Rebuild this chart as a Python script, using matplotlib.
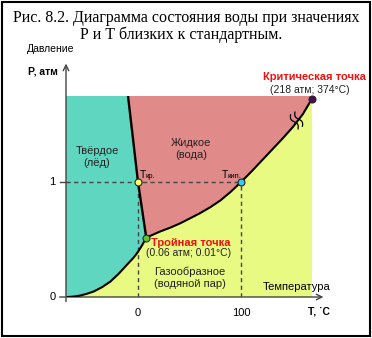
import numpy as np
import matplotlib.pyplot as plt
from matplotlib.patches import Polygon, Rectangle

W, H = 372, 338

# лёд <-> пар
subl_t = [-68, -62, -56, -50, -43, -35, -27, -19, -11, -5, -1, 4, 8]
subl_p = [0.0, 0.004, 0.013, 0.027, 0.048, 0.085, 0.133, 0.2, 0.278, 0.335, 0.38, 0.45, 0.516]
# вода <-> пар
vap_t = [8, 14, 21, 31, 41, 50, 60, 70, 80, 90, 100, 110, 120, 130, 140, 150, 160, 168.6]
vap_p = [0.516, 0.54, 0.568, 0.602, 0.641, 0.682, 0.728, 0.78, 0.84, 0.915, 1.0,
         1.09, 1.185, 1.28, 1.375, 1.475, 1.59, 1.72]
# лёд <-> вода
melt_t = [-9.7, 0, 8]
melt_p = [1.748, 1.0, 0.516]

t_min, t_max = -69.9, 168.9
p_max = 1.748

triple = (8, 0.516)
t_melt = (0, 1.0)
t_boil = (100, 1.0)
critical = (168.6, 1.72)

x_ticks = [0, 100]
y_ticks = [0, 1]

c_solid = '#5fd6bf'
c_liquid = '#e08a8a'
c_gas = '#e8fa82'
sans = ['Liberation Sans', 'DejaVu Sans']


def px(x, y):
    return x / W, 1 - y / H


fig = plt.figure(figsize=(W / 100, H / 100), dpi=100)
ax = fig.add_axes([66 / W, 1 - 297 / H, 246 / W, 201 / H])
ax.set_xlim(t_min, t_max)
ax.set_ylim(0, p_max)
ax.axis('off')

# области фаз
ax.add_patch(Rectangle((t_min, 0), t_max - t_min, p_max, color=c_gas, lw=0))
solid = [(t_min, 0), (t_min, p_max)] + list(zip(melt_t, melt_p)) + list(zip(subl_t[::-1], subl_p[::-1]))
ax.add_patch(Polygon(solid, closed=True, color=c_solid, lw=0))
liquid = list(zip(melt_t, melt_p)) + list(zip(vap_t[1:], vap_p[1:])) + [(critical[0], p_max)]
ax.add_patch(Polygon(liquid, closed=True, color=c_liquid, lw=0))

# пунктир
dash = dict(color='#444444', lw=1, ls=(0, (3, 2.5)), zorder=3)
ax.plot([t_min, t_boil[0]], [1, 1], **dash)
ax.plot([0, 0], [0, 1], **dash)
ax.plot([100, 100], [0, 1], **dash)

# кривые равновесия
ax.plot(subl_t, subl_p, color='black', lw=1.5, zorder=4)
ax.plot(vap_t, vap_p, color='black', lw=1.5, zorder=4)
ax.plot(melt_t, melt_p, color='black', lw=1.7, zorder=4)

# точки
for pt, col in [(triple, '#5ec62c'), (t_melt, '#ffff66'), (t_boil, '#33ccee'), (critical, '#4a0a55')]:
    ax.plot(*pt, 'o', ms=5, mfc=col, mec='#222222', mew=0.8, zorder=5, clip_on=False)

# разрыв шкалы: две волнистые чёрточки поперёк кривой (в пикселях)
s = np.linspace(-1, 1, 30)
ang = np.deg2rad(-62)
d = np.array([np.cos(ang), np.sin(ang)])
n = np.array([-d[1], d[0]])
for shift in (-2.2, 2.2):
    cx, cy = 296.5 + shift, 120.5 - 0.6 * shift
    xs = cx + 8 * s * d[0] + 1.8 * np.sin(np.pi * s) * n[0]
    ys = cy - (8 * s * d[1] + 1.8 * np.sin(np.pi * s) * n[1])
    fig.add_artist(plt.Line2D(xs / W, 1 - ys / H, transform=fig.transFigure,
                              color='black', lw=0.9, zorder=6))

# оси
arr = dict(arrowstyle='->', color='#444444', lw=1, shrinkA=0, shrinkB=0)
ax.annotate('', xy=(t_min, 2.03), xytext=(t_min, -0.04), arrowprops=arr, annotation_clip=False)
ax.annotate('', xy=(180, 0), xytext=(-76, 0), arrowprops=arr, annotation_clip=False)
ax.plot([-76, t_min], [1, 1], color='#444444', lw=1, clip_on=False)

for t in x_ticks:
    ax.text(t, -0.14, str(t), ha='center', va='center', fontsize=8, family=sans)
for p in y_ticks:
    ax.text(-80, p, str(p), ha='right', va='center', fontsize=8, family=sans)

# подписи
fig.text(*px(186, 18), 'Рис. 8.2. Диаграмма состояния воды при значениях',
         ha='center', va='center', fontsize=11.5, family='Liberation Serif')
fig.text(*px(181, 35), 'Р и Т близких к стандартным.',
         ha='center', va='center', fontsize=11.5, family='Liberation Serif')
fig.text(*px(27, 49), 'Давление', ha='left', va='center', fontsize=7.5, family=sans)
fig.text(*px(28, 72), 'P, атм', ha='left', va='center', fontsize=7.5, family=sans, weight='bold')
fig.text(*px(319, 311), 'T, ˙C', ha='center', va='center', fontsize=7.5, family=sans, weight='bold')
fig.text(*px(297, 287), 'Температура', ha='center', va='center', fontsize=8, family=sans)

fig.text(*px(97, 157), 'Твёрдое\n(лёд)', ha='center', va='center', fontsize=8,
         family=sans, color='#222222', linespacing=1.25)
fig.text(*px(191, 149), 'Жидкое\n(вода)', ha='center', va='center', fontsize=8,
         family=sans, color='#222222', linespacing=1.25)
fig.text(*px(190, 278), 'Газообразное\n(водяной пар)', ha='center', va='center', fontsize=8,
         family=sans, color='#222222', linespacing=1.25)

fig.text(*px(191, 243), 'Тройная точка', ha='center', va='center', fontsize=8,
         family=sans, weight='bold', color='#ee1111')
fig.text(*px(189, 253), '(0.06 атм; 0.01°C)', ha='center', va='center', fontsize=7.5,
         family=sans, color='#222222')
fig.text(*px(314, 77), 'Критическая точка', ha='center', va='center', fontsize=8,
         family=sans, weight='bold', color='#ee1111')
fig.text(*px(310, 90), '(218 атм; 374°C)', ha='center', va='center', fontsize=7.5,
         family=sans, color='#222222')

fig.text(*px(140, 175), 'T', ha='left', va='center', fontsize=7.5, family=sans)
fig.text(*px(146, 177), 'кр.', ha='left', va='center', fontsize=5.5, family=sans)
fig.text(*px(222, 175), 'T', ha='left', va='center', fontsize=7.5, family=sans)
fig.text(*px(228, 177), 'кип.', ha='left', va='center', fontsize=5.5, family=sans)

# рамка
fig.add_artist(Rectangle((1.5 / W, 2.5 / H), 368.5 / W, 334 / H, transform=fig.transFigure,
                         fill=False, ec='black', lw=1.5))

fig.savefig('out.png', dpi=100)
